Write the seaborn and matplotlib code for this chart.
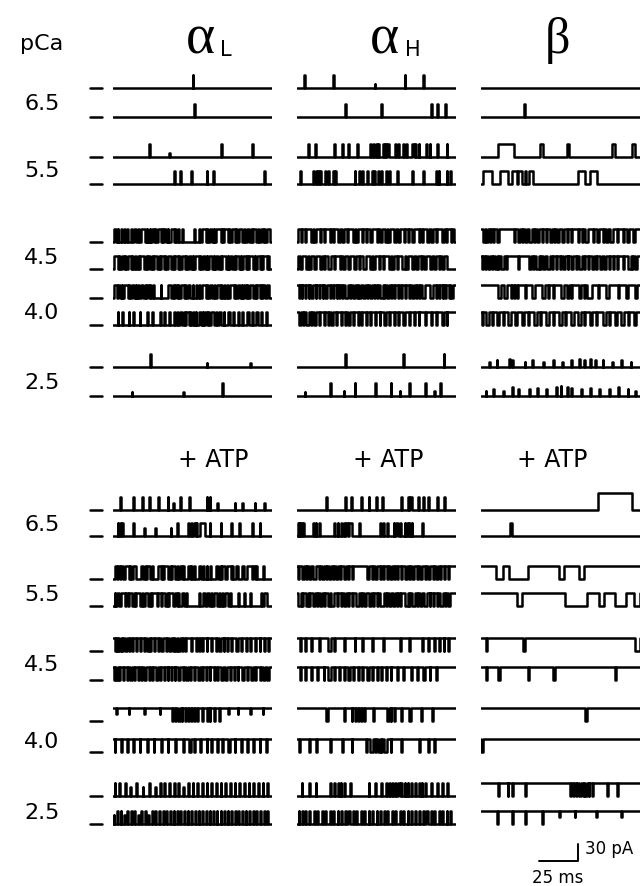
import numpy as np
import pandas as pd
import seaborn as sns
import matplotlib
matplotlib.use("Agg")
import matplotlib.pyplot as plt

sns.set_style("white")
plt.rcParams['font.family'] = ['DejaVu Sans']
plt.rcParams['text.color'] = 'black'

## Data: single channel events, (start ms, duration ms[, fraction of unit amplitude])
## each trace is the baseline state (0 closed / 1 open) plus the transitions away from it

T_END = 102.0      # ms shown per trace
AMP = 23.0         # unit current, pA

pca_labels = ["6.5", "5.5", "4.5", "4.0", "2.5"]
columns = ["L", "H", "beta"]

# ---- control, alpha_L
AL_65_A = [(51, 0.6)]
AL_65_B = [(52, 0.6)]
AL_55_A = [(23, 0.9), (36, 0.3, 0.3), (69, 0.7), (89, 0.6)]
AL_55_B = [(39, 0.5), (43, 0.5), (50, 0.6), (60, 0.5), (64, 0.6), (97, 0.5)]
AL_45_A = [(0.5, 1.5), (3, 0.4), (5, 0.6), (7, 0.4), (9, 0.8), (11.5, 0.4), (13.5, 1.2), (16, 0.5), (18, 2.5),
           (21.5, 0.5), (23.5, 0.4), (25, 1.0), (27, 0.5), (29, 1.5), (31.5, 0.4), (33, 1.0), (35, 0.5), (37, 2.0),
           (40, 0.5), (42, 0.5), (44, 0.8), (52, 0.4), (55, 0.5), (57, 2.5), (60.5, 0.5), (62, 1.5), (64.5, 0.5),
           (66, 3.0), (70, 0.5), (71.5, 2.0), (74.5, 0.5), (76.5, 1.5), (79, 0.5), (81, 2.0), (84, 0.4), (86, 1.5),
           (88.5, 0.5), (90, 2.0), (93, 0.5), (95, 1.0), (97, 0.4), (99, 1.5)]
AL_45_B = [(0.5, 2.5), (4, 0.5), (5.5, 1.5), (8, 0.4), (9.5, 2.0), (12.5, 0.5), (14, 1.0), (16, 0.4), (17.5, 2.5),
           (21, 0.5), (22.5, 1.5), (25, 0.4), (26.5, 2.0), (29.5, 0.5), (31, 1.5), (33.5, 0.4), (35, 2.5), (38.5, 0.5),
           (40, 1.5), (42.5, 0.5), (44, 2.0), (47, 0.4), (48.5, 1.5), (51, 0.5), (52.5, 2.5), (56, 0.4), (57.5, 1.5),
           (60, 0.5), (61.5, 2.0), (64.5, 0.4), (66, 1.5), (68.5, 0.5), (70, 2.5), (73.5, 0.4), (75, 1.5), (77.5, 0.5),
           (79, 2.0), (82, 0.4), (83.5, 1.5), (86, 0.5), (87.5, 2.5), (91, 0.4), (92.5, 1.5), (95, 0.5), (96.5, 2.0),
           (99.5, 0.5)]
AL_40_A = [(0.5, 2.0), (3.5, 1.0), (5.5, 0.4), (7, 2.5), (10.5, 0.5), (12, 1.5), (14.5, 0.5), (16, 0.8), (18, 1.5),
           (20.5, 0.5), (22, 1.2), (24, 0.5), (25.5, 1.0), (30.5, 0.4), (35.5, 2.0), (38.5, 0.5), (40, 1.0), (42, 0.4),
           (43.5, 2.0), (46.5, 0.5), (48, 1.5), (51, 0.4), (53, 1.0), (55, 0.5), (57, 2.5), (60.5, 0.5), (62, 1.5),
           (65, 0.4), (66.5, 2.0), (69.5, 0.5), (71, 1.0), (73, 0.5), (75, 2.5), (78.5, 0.5), (80, 1.5), (82.5, 0.4),
           (84, 1.0), (86, 0.5), (88, 2.0), (91, 0.5), (92.5, 1.5), (95, 0.4), (96.5, 1.0), (98.5, 1.5)]
AL_40_B = [(3, 0.4), (6, 0.5), (10, 0.4), (13, 0.6), (17, 0.5), (22, 0.4), (25, 0.5), (30, 0.5), (33, 0.6), (36, 0.5),
           (39, 0.8), (41, 0.5), (43, 1.0), (45.5, 0.5), (47, 1.5), (49.5, 0.5), (51, 1.0), (53, 0.5), (55, 1.5),
           (57.5, 0.5), (59, 1.0), (61, 0.5), (63, 1.5), (66, 0.5), (68, 1.0), (71, 0.5), (74, 0.8), (77, 0.5),
           (80, 0.6), (83, 0.5), (86, 1.0), (89, 0.5), (92, 0.8), (95, 0.5), (98, 1.0)]
AL_25_A = [(24, 0.5), (60, 0.3, 0.3), (88, 0.3, 0.3)]
AL_25_B = [(12, 0.3, 0.3), (45, 0.3, 0.3), (70, 0.5)]

# ---- control, alpha_H
AH_65_A = [(4.5, 0.5), (23, 0.6), (50, 0.3, 0.3), (69, 0.6), (81, 0.5)]
AH_65_B = [(31, 0.5), (54, 0.6), (86, 0.5), (90, 0.5), (95, 0.6)]
AH_55_A = [(7, 0.5), (11.5, 0.4), (24, 0.5), (29, 0.5), (33, 0.4), (38.5, 0.6), (47, 0.5), (48.5, 0.8), (50.5, 0.5),
           (52, 0.8), (55, 0.6), (56.5, 0.4), (58, 1.0), (63, 0.5), (64.5, 0.8), (68, 0.6), (70, 0.5), (74, 0.8),
           (76, 0.5), (78, 0.4), (83, 0.6), (85, 0.5), (90, 0.6), (96, 0.5)]
AH_55_B = [(2, 0.5), (10.5, 0.5), (12, 0.8), (13.5, 0.5), (15, 0.4), (18, 0.6), (20, 0.5), (23, 0.5), (24.5, 0.8),
           (37, 0.5), (40, 0.5), (42, 0.4), (45, 0.6), (48, 0.5), (49.5, 0.4), (52, 0.6), (54, 0.8), (57, 0.5),
           (59, 0.6), (64, 0.5), (74, 0.5), (81, 0.6), (89, 0.5), (91, 0.4), (96, 0.5), (98, 0.8)]
AH_45_A = [(0.5, 2.0), (3.5, 1.5), (6, 3.0), (10, 1.0), (12, 2.5), (15.5, 1.5), (18, 3.0), (22, 1.0), (24, 2.5),
           (27.5, 1.5), (30, 2.0), (33, 3.0), (37, 1.0), (39, 2.5), (42.5, 1.5), (45, 2.0), (48, 3.0), (52, 1.5),
           (54.5, 2.0), (57.5, 1.0), (59.5, 3.0), (63.5, 1.5), (66, 2.5), (69.5, 1.5), (72, 2.0), (75, 3.0), (79, 1.0),
           (81, 2.5), (84.5, 1.5), (87, 2.0), (90, 3.0), (94, 1.5), (96.5, 2.0), (99.5, 1.5)]
AH_45_B = [(0.5, 1.5), (3, 2.5), (7, 1.0), (9, 2.0), (12, 3.0), (16, 1.0), (18, 2.0), (22, 1.5), (24.5, 3.0),
           (28.5, 1.0), (31, 2.0), (34, 2.5), (38, 1.5), (40.5, 2.0), (44, 3.0), (48, 1.0), (50, 2.5), (53.5, 1.5),
           (56, 3.0), (60, 1.0), (62, 2.0), (65, 2.5), (69, 1.0), (71, 3.0), (75, 1.5), (77.5, 2.0), (80.5, 1.0),
           (82.5, 3.0), (86.5, 1.5), (89, 2.0), (92, 1.0), (94, 2.5)]
AH_40_A = [(1, 0.8), (3, 0.5), (5, 1.0), (7.5, 0.4), (9, 1.5), (12, 0.5), (14, 0.8), (16.5, 0.4), (18, 1.2), (21, 0.5),
           (23, 1.0), (25.5, 0.4), (27, 0.8), (29, 0.5), (31, 1.5), (34, 0.4), (36, 1.0), (38.5, 0.5), (40, 0.8),
           (42.5, 1.2), (45, 0.4), (47, 1.0), (49.5, 0.5), (51, 0.8), (53.5, 1.5), (56, 0.4), (58, 1.0), (60.5, 0.5),
           (62, 0.8), (64.5, 1.0), (67, 0.4), (69, 1.2), (72, 0.5), (74, 1.0), (76.5, 0.4), (78, 0.8), (80.5, 1.5),
           (85, 2.0), (89, 0.5), (91, 1.0), (93.5, 0.4), (95, 0.8), (97.5, 0.5), (99, 1.0)]
AH_40_B = [(1, 1.5), (4, 0.5), (6, 1.5), (9, 0.5), (11, 1.0), (14, 0.5), (17, 0.8), (20, 0.5), (22, 1.0), (25, 0.5),
           (28, 0.8), (31, 0.5), (33, 1.0), (36, 0.5), (39, 0.8), (41, 0.5), (44, 1.0), (47, 0.5), (50, 0.8), (53, 0.5),
           (56, 1.0), (59, 0.5), (62, 0.8), (65, 0.5), (68, 1.0), (72, 0.5), (75, 0.8), (78, 0.5), (82, 1.0), (86, 0.5),
           (89, 0.8), (93, 1.0), (96, 0.5)]
AH_25_A = [(31, 0.5), (68, 0.5), (94, 0.6)]
AH_25_B = [(5, 0.3, 0.3), (21, 0.5), (30, 0.3, 0.4), (37, 0.5), (50, 0.6), (60, 0.5), (66, 0.3, 0.4), (72, 0.5),
           (82, 0.5), (88, 0.3, 0.4), (92, 0.5)]

# ---- control, beta
B_65_A = []
B_65_B = [(27.5, 0.6)]
B_55_A = [(11, 10), (38, 1.5), (55, 1.5), (84, 2), (97, 1.5)]
B_55_B = [(1.5, 5.5), (12, 5), (20, 3), (24, 2.5), (28, 0.8), (30.5, 3), (62, 5), (70, 4.5)]
B_45_A = [(1, 1.5), (3.5, 0.8), (5.5, 1.0), (8, 0.6), (10, 1.5), (21, 1.0), (23.5, 1.5), (26.5, 0.6), (28.5, 1.0),
          (31, 1.5), (34, 0.6), (36, 1.5), (39, 0.6), (41.5, 1.0), (44, 1.5), (47, 0.6), (49, 1.0), (52, 1.5),
          (55, 0.6), (57.5, 1.0), (62, 0.6), (64.5, 1.0), (67, 1.5), (72, 0.6), (74.5, 1.0), (78, 0.6), (80.5, 1.0),
          (83, 1.5), (87, 0.6), (91, 1.0), (93.5, 1.5), (97.5, 1.0)]
B_45_B = [(0.5, 1.0), (2.5, 0.6), (4.5, 1.5), (7, 0.6), (9, 1.0), (11, 0.6), (13, 1.5), (16, 0.6), (24, 0.6),
          (31, 1.0), (33.5, 0.6), (35.5, 1.5), (38, 0.6), (40, 1.0), (42.5, 1.5), (45.5, 0.6), (48, 1.0), (50.5, 0.6),
          (52.5, 1.5), (55.5, 0.6), (58, 1.0), (61, 0.6), (63, 1.5), (66, 0.6), (68.5, 1.0), (71, 1.5), (74, 0.6),
          (76.5, 1.0), (79, 1.5), (82, 0.6), (84.5, 1.0), (87, 0.6), (91, 0.6), (94.5, 1.5), (97, 0.6), (99, 1.0)]
B_40_A = [(11, 2), (15, 1.5), (19, 0.6), (21, 1.0), (23, 0.6), (28, 1.0), (33, 1.5), (39, 2.0), (43, 0.6), (46, 1.0),
          (51, 2.0), (55, 1.5), (58, 0.6), (63, 1.0), (66, 0.6), (68, 3.0), (75, 1.0), (80, 2.0), (88, 0.8),
          (93, 1.5), (99, 0.8)]
B_40_B = [(0.5, 1.0), (3, 2.0), (7, 0.8), (10, 1.5), (14, 0.6), (17, 2.0), (22, 0.8), (26, 1.5), (30, 0.6), (34, 2.0),
          (38, 0.8), (42, 1.5), (46, 0.6), (50, 2.0), (54, 0.8), (58, 1.5), (62, 2.0), (66, 0.8), (70, 1.5),
          (74, 0.6), (78, 2.0), (82, 0.8), (86, 1.5), (90, 2.0), (94, 0.8), (98, 1.5)]
B_25_A = [(5, 0.5, 0.4), (10, 0.5, 0.5), (18, 0.6, 0.6), (20, 0.4, 0.5), (28, 0.5, 0.4), (33, 0.5, 0.5),
          (40, 0.5, 0.4), (46, 0.6, 0.5), (52, 0.5, 0.4), (58, 0.5, 0.5), (63, 0.6, 0.6), (66, 0.5, 0.5),
          (70, 0.6, 0.6), (73, 0.5, 0.5), (78, 0.5, 0.5), (84, 0.5, 0.4), (90, 0.6, 0.5), (96, 0.5, 0.4)]
B_25_B = [(3, 0.5, 0.4), (8, 0.6, 0.5), (14, 0.5, 0.4), (20, 0.6, 0.7), (24, 0.5, 0.5), (31, 0.5, 0.5),
          (36, 0.6, 0.6), (42, 0.5, 0.5), (48, 0.6, 0.7), (51, 0.5, 0.8), (55, 0.6, 0.7), (58, 0.5, 0.6),
          (64, 0.5, 0.5), (70, 0.6, 0.6), (76, 0.5, 0.5), (82, 0.5, 0.5), (88, 0.6, 0.7), (94, 0.5, 0.5),
          (99, 0.5, 0.4)]

# ---- + ATP, alpha_L
AL2_65_A = [(4.5, 0.6), (13, 0.6), (18.5, 0.6), (23, 0.6), (29, 0.5), (35, 0.5), (38.5, 0.4, 0.5), (43, 0.5),
            (49, 0.5), (60, 0.5), (62, 0.5), (67, 0.4, 0.5), (78, 0.4, 0.5), (83, 0.4, 0.5), (91, 0.4, 0.5),
            (97, 0.4, 0.5)]
AL2_65_B = [(3, 0.5), (4.5, 0.5), (6, 0.4), (13, 0.5), (20, 0.4, 0.6), (27, 0.4, 0.6), (37, 0.4, 0.6), (41, 0.5),
            (48, 0.6), (50, 0.8), (52, 1.0), (53.5, 0.6), (56, 3.0), (62, 0.5), (69, 0.5), (76, 0.5), (81, 0.5),
            (89, 0.5), (94, 0.5)]
AL2_55_A = [(1, 1.5), (3.5, 0.8), (5, 1.5), (8, 2.0), (11, 0.8), (13, 1.5), (18, 1.5), (20.5, 0.8), (22, 2.0),
            (25, 0.6), (29, 1.5), (31.5, 0.8), (33, 2.5), (36.5, 0.8), (38, 2.0), (41, 0.8), (43, 1.5), (45, 0.8),
            (48, 1.5), (50, 0.8), (52, 0.6), (55, 1.5), (57.5, 0.8), (60, 0.6), (62, 1.0), (66, 1.5), (68.5, 0.8),
            (70, 2.0), (73, 2.5), (76.5, 0.8), (79, 1.5), (83, 0.8), (86, 3.0), (90, 1.0), (92, 0.6), (96, 0.8)]
AL2_55_B = [(1, 0.6), (2.5, 1.5), (5, 2.5), (8.5, 1.0), (10.5, 2.0), (13.5, 0.8), (15, 2.5), (18.5, 1.0), (20.5, 2.0),
            (23.5, 0.8), (25, 3.0), (29, 1.5), (31.5, 2.0), (34.5, 0.8), (36, 2.5), (40, 1.0), (42, 0.6), (44.5, 0.8),
            (47, 0.6), (55, 0.6), (58, 0.8), (60, 1.5), (63, 0.8), (65, 1.5), (68, 0.8), (70, 0.6), (72, 1.5),
            (75, 0.6), (80, 0.6), (84, 0.8), (88, 0.6), (95, 0.8), (97, 1.5)]
AL2_45_A = [(1, 0.8), (2.5, 0.5), (4, 1.0), (6, 0.5), (8, 1.2), (10.5, 0.5), (12, 0.8), (15, 0.5), (17, 1.0),
            (20, 0.5), (22, 0.8), (24, 0.5), (26, 1.2), (29, 0.5), (31, 0.8), (34, 0.5), (36, 1.0), (38.5, 0.5),
            (40, 0.8), (42, 1.0), (44.5, 0.5), (46, 0.8), (50, 0.5), (53, 0.8), (55, 0.5), (57, 1.0), (60, 0.5),
            (63, 0.8), (66, 0.5), (68, 1.0), (71, 0.5), (73, 0.8), (76, 0.5), (79, 1.0), (82, 0.5), (85, 0.8),
            (88, 0.5), (91, 1.0), (94, 0.5), (97, 0.8), (99.5, 0.5)]
AL2_45_B = [(0.5, 0.6), (2, 1.0), (4, 0.5), (6.5, 0.8), (9, 0.5), (11, 1.2), (13.5, 0.5), (16, 0.8), (18, 0.5),
            (20, 1.0), (23, 0.5), (25, 0.8), (27.5, 1.2), (30, 0.5), (32.5, 0.8), (35, 0.5), (37, 1.0), (39.5, 0.5),
            (42, 0.8), (45, 0.5), (47, 1.0), (49.5, 0.5), (52, 0.8), (54.5, 1.2), (57, 0.5), (59.5, 0.8), (62, 0.5),
            (64.5, 1.0), (67, 0.5), (69.5, 0.8), (72, 1.2), (75, 0.5), (77.5, 0.8), (80, 0.5), (83, 1.0), (86, 0.5),
            (88.5, 1.2), (91, 0.5), (94, 0.8), (96.5, 1.0), (99, 0.8)]
AL2_40_A = [(2, 0.4, 0.5), (10, 0.4, 0.5), (20, 0.4, 0.5), (30, 0.4, 0.5), (38, 0.8), (40, 0.5), (42, 0.8), (44, 0.5),
            (46, 1.0), (48, 0.5), (50, 0.8), (52, 0.5), (54, 0.6), (57, 0.5), (60, 0.8), (62, 0.5), (65, 0.6),
            (68, 0.5), (74, 0.4, 0.5), (80, 0.4, 0.5), (88, 0.4, 0.5), (96, 0.4, 0.5)]
AL2_40_B = [(1, 0.5), (5, 0.6), (9, 0.5), (13, 0.5), (17, 0.6), (22, 0.5), (26, 0.5), (31, 0.6), (35, 0.5), (40, 0.6),
            (45, 0.5), (49, 0.8), (52, 0.5), (56, 0.6), (60, 0.5), (63, 0.8), (67, 0.5), (70, 0.6), (74, 0.8),
            (78, 0.5), (82, 0.8), (86, 0.6), (90, 0.5), (94, 0.6), (98, 0.8)]
AL2_25_A = [(1, 0.5), (4, 0.4), (8, 0.5), (11, 0.5, 0.7), (15, 0.4), (19, 0.5, 0.7), (23, 0.5), (27, 0.4, 0.7),
            (30, 0.6), (33, 0.5), (36, 0.4), (39, 0.6), (42, 0.5), (45, 0.5, 0.7), (48, 0.6), (51, 0.4), (54, 0.5),
            (57, 0.6), (60, 0.5), (63, 0.4), (66, 0.6), (69, 0.5), (72, 0.5), (75, 0.6), (78, 0.4), (81, 0.5),
            (84, 0.6), (87, 0.5), (90, 0.4), (93, 0.6), (96, 0.5), (99, 0.4)]
AL2_25_B = [(0.5, 0.4, 0.7), (2.5, 0.5), (5, 0.4), (7, 0.5, 0.7), (9, 0.6), (11.5, 0.4), (13.5, 0.5),
            (16, 0.5, 0.7), (18, 0.4), (20.5, 0.6), (22.5, 0.5, 0.7), (25, 0.4), (27, 0.6), (29.5, 0.5), (32, 0.4),
            (34, 0.5), (36.5, 0.6), (39, 0.4), (41, 0.5), (43, 0.6), (45.5, 0.5), (48, 0.4), (50, 0.6), (52.5, 0.5),
            (55, 0.4), (57, 0.6), (59.5, 0.5), (62, 0.4), (64, 0.6), (66.5, 0.5), (69, 0.4), (71, 0.6), (73.5, 0.5),
            (76, 0.4), (78, 0.6), (80.5, 0.5), (83, 0.4), (85, 0.6), (87.5, 0.5), (90, 0.4), (92, 0.6), (94.5, 0.5),
            (97, 0.4), (99, 0.6)]

# ---- + ATP, alpha_H
AH2_65_A = [(18.5, 0.6), (31, 0.6), (34.5, 0.5), (41, 0.6), (46, 0.5), (50.5, 0.6), (54.5, 0.5), (66.5, 0.6),
            (71, 0.8), (72.5, 1.5), (77.5, 0.6), (81, 0.5), (84, 0.6), (90, 0.5), (94.5, 0.6)]
AH2_65_B = [(0.5, 0.6), (1.5, 0.5), (2.5, 0.8), (4, 0.5), (10, 0.6), (12, 0.5), (14, 0.6), (24, 0.6), (26, 0.5),
            (28, 0.6), (30, 0.5), (31.5, 1.0), (33.5, 2.0), (40, 0.5), (53, 0.6), (55, 0.5), (58, 0.6), (62, 0.5),
            (63.5, 1.5), (66, 0.5), (69, 0.6), (70.5, 0.5), (72, 0.6), (73.5, 0.5), (80, 0.6)]
AH2_55_A = [(0.5, 0.8), (3, 1.5), (6, 0.6), (8, 1.0), (10.5, 2.0), (14, 0.6), (16, 1.0), (18.5, 0.6), (20.5, 1.5),
            (23, 0.6), (25, 1.0), (27.5, 0.6), (30, 1.5), (33, 0.6), (35, 1.0), (45, 1.0), (48, 0.6), (50, 1.5),
            (53, 0.6), (55, 1.0), (57.5, 0.6), (59.5, 1.5), (62, 0.6), (64, 1.0), (67, 0.6), (69, 1.5), (72, 0.6),
            (74, 1.0), (77, 0.6), (79, 1.5), (82, 0.6), (84, 1.0), (87, 0.6), (89, 1.5), (92, 0.6), (94, 1.0),
            (97, 0.6)]
AH2_55_B = [(0.5, 2.0), (3.5, 0.6), (5.5, 1.5), (8, 0.6), (10, 1.5), (13, 0.6), (15, 1.0), (17.5, 0.6), (20, 1.0),
            (22, 2.0), (25.5, 1.0), (28, 0.6), (30, 1.5), (33, 0.6), (35, 1.0), (38, 2.0), (41, 0.6), (43, 1.0),
            (46, 1.5), (49, 0.6), (51, 1.0), (53.5, 2.0), (57, 0.6), (59, 1.0), (61.5, 1.5), (64, 0.6), (66, 1.0),
            (69, 2.0), (72, 0.6), (74, 1.5), (77, 0.6), (79, 1.0), (81.5, 2.0), (85, 0.6), (87, 1.0), (90, 0.6),
            (92, 1.5), (95, 0.6), (97, 1.0)]
AH2_45_A = [(2, 0.5), (5, 0.8), (9, 0.5), (14, 0.6), (20, 1.5), (24, 0.6), (30, 0.8), (37, 0.5), (42, 0.6),
            (48, 0.5), (55, 0.8), (66, 0.6), (72, 0.5), (80, 0.6), (84, 0.8), (88, 0.5), (91, 1.0), (94, 0.6),
            (97, 0.8)]
AH2_45_B = [(2, 0.6), (5, 0.5), (9, 0.8), (13, 0.5), (17, 0.6), (20, 1.5), (24, 0.5), (27, 0.8), (30, 0.6),
            (33, 1.0), (36, 0.5), (39, 0.8), (42, 0.6), (45, 1.0), (48, 0.5), (51, 0.8), (54, 0.6), (57, 1.0),
            (60, 0.5), (64, 0.6), (68, 0.5), (73, 0.8), (77, 0.5), (81, 0.8), (85, 0.6), (89, 0.5)]
AH2_40_A = [(18.5, 1.5), (30, 0.6), (35, 0.6), (37, 0.8), (39, 0.6), (41, 0.8), (43, 0.6), (49, 0.6), (58, 0.8),
            (60, 0.6), (62, 0.8), (67, 0.6), (72, 1.0), (79.5, 0.6), (86.5, 0.8)]
AH2_40_B = [(1, 1.0), (8, 0.6), (12, 0.6), (21, 0.6), (29, 0.6), (35, 0.6), (44, 0.8), (47, 1.5), (50, 0.6),
            (52, 1.0), (54, 0.6), (56, 1.5), (60, 0.6), (67, 0.6), (78, 0.8), (84, 0.6), (88, 0.6)]
AH2_25_A = [(3, 0.5), (8, 0.5), (12, 0.5), (21, 0.6), (24, 0.5), (26, 0.8), (28, 0.5), (30, 0.6), (34, 0.5),
            (46, 0.5), (50, 0.6), (54, 0.5), (57, 0.8), (59, 0.5), (61, 0.6), (63, 0.5), (65, 0.8), (67, 0.5),
            (69, 0.6), (71, 0.5), (73, 0.8), (76, 0.5), (78, 0.6), (80, 0.5), (82, 0.6), (86, 0.5), (90, 0.6),
            (93, 0.5), (96, 0.6)]
AH2_25_B = [(1, 0.5), (3, 0.6), (5, 0.5), (8, 0.6), (11, 0.5), (13, 0.6), (16, 0.5), (18, 0.6), (21, 0.5), (23, 0.8),
            (26, 0.5), (28, 0.6), (31, 0.5), (33, 0.8), (36, 0.5), (38, 0.6), (41, 0.5), (43, 0.8), (46, 0.5),
            (48, 0.6), (51, 0.5), (53, 0.8), (56, 0.5), (58, 0.6), (61, 0.5), (63, 0.8), (66, 0.5), (68, 0.6),
            (71, 0.5), (73, 0.8), (76, 0.5), (78, 0.6), (81, 0.5), (83, 0.8), (86, 0.5), (88, 0.6), (91, 0.5),
            (93, 0.8), (96, 0.5), (98, 0.6)]

# ---- + ATP, beta
B2_65_A = [(75, 22, 1.3)]
B2_65_B = [(18.5, 1.2)]
B2_55_A = [(9.6, 4.4), (18, 12), (50, 3), (63, 3)]
B2_55_B = [(23, 3.5), (54, 14), (76, 3), (86, 7), (98, 4)]
B2_45_A = [(3, 0.8), (27, 1.2), (99, 3)]
B2_45_B = [(3, 0.8), (11, 1.0), (30, 0.6), (46.5, 0.8), (86, 0.8)]
B2_40_A = [(67, 1.0)]
B2_40_B = [(0, 1.0)]
B2_25_A = [(11, 0.8), (17, 0.6), (20, 0.6), (28, 0.6), (57, 0.6), (59, 0.8), (61, 0.6), (63, 1.0), (65.5, 0.6),
           (67, 0.8), (69, 0.6), (71, 0.8), (81, 0.6), (87.5, 0.6)]
B2_25_B = [(10, 0.6), (20, 0.8), (28, 0.6), (39, 0.6), (50, 0.4, 0.5), (60, 0.4, 0.5), (74, 0.4, 0.5),
           (90, 0.4, 0.5)]

# baseline state per row (closed=0 / open=1), column order alpha_L, alpha_H, beta
base_ctrl = [(0, 0, 0), (0, 0, 0), (0, 0, 1), (0, 1, 1), (0, 0, 0)]
base_atp = [(0, 0, 0), (0, 1, 1), (1, 1, 1), (1, 1, 1), (0, 0, 1)]

traces_ctrl = [
    [(AL_65_A, AL_65_B), (AH_65_A, AH_65_B), (B_65_A, B_65_B)],
    [(AL_55_A, AL_55_B), (AH_55_A, AH_55_B), (B_55_A, B_55_B)],
    [(AL_45_A, AL_45_B), (AH_45_A, AH_45_B), (B_45_A, B_45_B)],
    [(AL_40_A, AL_40_B), (AH_40_A, AH_40_B), (B_40_A, B_40_B)],
    [(AL_25_A, AL_25_B), (AH_25_A, AH_25_B), (B_25_A, B_25_B)],
]
traces_atp = [
    [(AL2_65_A, AL2_65_B), (AH2_65_A, AH2_65_B), (B2_65_A, B2_65_B)],
    [(AL2_55_A, AL2_55_B), (AH2_55_A, AH2_55_B), (B2_55_A, B2_55_B)],
    [(AL2_45_A, AL2_45_B), (AH2_45_A, AH2_45_B), (B2_45_A, B2_45_B)],
    [(AL2_40_A, AL2_40_B), (AH2_40_A, AH2_40_B), (B2_40_A, B2_40_B)],
    [(AL2_25_A, AL2_25_B), (AH2_25_A, AH2_25_B), (B2_25_A, B2_25_B)],
]


def trace_frame(events, base):
    # step trace: current held from each time to the next
    t = [0.0]
    i = [base * AMP]
    for ev in events:
        s, d = ev[0], ev[1]
        f = ev[2] if len(ev) > 2 else 1.0
        lvl = f if base == 0 else 1 - f
        t += [s, s + d]
        i += [lvl * AMP, base * AMP]
    t.append(T_END)
    i.append(base * AMP)
    return pd.DataFrame({"t": t, "i": i})


## Layout (pixels of a 640 x 887 figure)
W, H = 640, 887
fig = plt.figure(figsize=(W / 100, H / 100), dpi=100)

col_x = [113, 297, 481]
col_w = 159
PA_PER_PX = 30 / 17.0
# closed level of the two traces of each row
rows_ctrl = [(89, 118), (158, 185), (243, 270), (299, 326), (368, 397)]
rows_atp = [(511, 537), (580, 607), (652, 681), (722, 753), (797, 825)]
lab_ctrl = [104, 171, 258, 313, 383]
lab_atp = [525, 595, 665, 742, 813]


def px_box(x, y_top, w, h):
    return [x / W, 1 - (y_top + h) / H, w / W, h / H]


def draw_block(rows, traces, bases, labels):
    for r, (ys, row_tr, row_base) in enumerate(zip(rows, traces, bases)):
        fig.text(42 / W, 1 - labels[r] / H, pca_labels[r], ha="center", va="center", fontsize=16)
        for c in range(3):
            for k in range(2):
                yc = ys[k]
                ax = fig.add_axes(px_box(col_x[c], yc - 30, col_w, 40))
                df = trace_frame(row_tr[c][k], row_base[c])
                sns.lineplot(data=df, x="t", y="i", ax=ax, color="black", lw=1.8,
                             estimator=None, sort=False, drawstyle="steps-post")
                ax.set_xlim(0, T_END)
                ax.set_ylim(-10 * PA_PER_PX, 30 * PA_PER_PX)
                ax.axis("off")
                ax.patch.set_alpha(0)
                if c == 0:
                    # closed-level marker left of the traces
                    ax.plot([-15, -7], [0, 0], color="black", lw=1.8, clip_on=False)


draw_block(rows_ctrl, traces_ctrl, base_ctrl, lab_ctrl)
draw_block(rows_atp, traces_atp, base_atp, lab_atp)

# column headings
fig.text(42 / W, 1 - 44 / H, "pCa", ha="center", va="center", fontsize=16)
fig.text(200 / W, 1 - 40 / H, "α", ha="center", va="center", fontsize=40, family="Liberation Serif")
fig.text(226 / W, 1 - 50 / H, "L", ha="center", va="center", fontsize=15)
fig.text(384 / W, 1 - 40 / H, "α", ha="center", va="center", fontsize=40, family="Liberation Serif")
fig.text(413 / W, 1 - 50 / H, "H", ha="center", va="center", fontsize=15)
fig.text(557 / W, 1 - 40 / H, "β", ha="center", va="center", fontsize=36, family="Liberation Serif")
for cx in [213, 388, 552]:
    fig.text(cx / W, 1 - 460 / H, "+ ATP", ha="center", va="center", fontsize=17)

# scale bar 25 ms / 30 pA
sb = fig.add_axes(px_box(539, 845, 39, 17))
sb.plot([0, 25, 25], [0, 0, 30], color="black", lw=1.4, clip_on=False)
sb.set_xlim(0, 25)
sb.set_ylim(0, 30)
sb.axis("off")
sb.patch.set_alpha(0)
fig.text(585 / W, 1 - 849 / H, "30 pA", ha="left", va="center", fontsize=12)
fig.text(558 / W, 1 - 878 / H, "25 ms", ha="center", va="center", fontsize=12)

fig.savefig("out.png", dpi=100)
